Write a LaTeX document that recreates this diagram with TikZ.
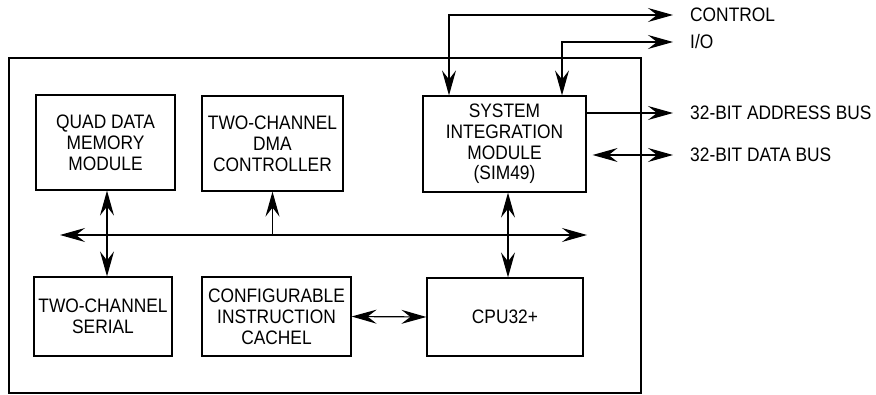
\documentclass[tikz,border=0pt]{standalone}
\usepackage{fontspec}
\setmainfont{Liberation Sans}[FakeStretch=0.89]
\usepackage{tikz}
\usetikzlibrary{arrows.meta,positioning}

\begin{document}
\begin{tikzpicture}[x=1pt,y=-1pt,
    every node/.style={font=\fontsize{19.5}{20.8}\selectfont},
    blk/.style={draw,line width=1.2pt,align=center,inner sep=0pt},
    lbl/.style={anchor=west,inner sep=0pt},
    >={Stealth[length=25pt,width=14pt,inset=9pt]},
    ln/.style={line width=1.2pt}]
  \useasboundingbox (0,0) rectangle (876,395);
  % outer chip boundary
  \draw[line width=2.4pt] (9,58) rectangle (641,393);
  % modules
  \node[blk,minimum width=139pt,minimum height=95pt] (quad) at (105.5,142.5) {QUAD DATA\\MEMORY\\MODULE};
  \node[blk,minimum width=141pt,minimum height=95pt] (dma) at (272.5,143.5) {TWO-CHANNEL\\DMA\\CONTROLLER};
  \node[blk,minimum width=163pt,minimum height=96pt] (sim) at (504.5,144) {SYSTEM\\INTEGRATION\\MODULE\\(SIM49)};
  \node[blk,minimum width=138pt,minimum height=79pt] (serial) at (103,316.5) {TWO-CHANNEL\\SERIAL};
  \node[blk,minimum width=149pt,minimum height=79pt] (cache) at (276.5,316.5) {CONFIGURABLE\\INSTRUCTION\\CACHEL};
  \node[blk,minimum width=156pt,minimum height=78pt] (cpu) at (505,317) {CPU32+};
  % external signals
  \node[lbl] (lctl) at (690,15) {CONTROL};
  \node[lbl] (lio) at (690,42) {I/O};
  \node[lbl] (ladr) at (690,113) {32-BIT ADDRESS BUS};
  \node[lbl] (ldat) at (690,155) {32-BIT DATA BUS};
  % internal bus
  \coordinate (busL) at (60,235);
  \coordinate (busR) at (587,235);
  \draw[ln,<->] (busL) -- (busR);
  \draw[ln,<->] ([xshift=1.5pt]quad.south) -- ([xshift=1.5pt]quad.south |- serial.north);
  \draw[ln,->] (dma.south |- busL) -- (dma.south);
  \draw[ln,<->] ([xshift=3.5pt]sim.south) -- ([xshift=3.5pt]sim.south |- cpu.north);
  \draw[ln,<->] (cache.east) -- (cpu.west);
  % SIM connections
  \draw[ln,<->] ([xshift=-55.5pt]sim.north) |- ([xshift=-17pt]lctl.west);
  \draw[ln,<->] ([xshift=57.5pt]sim.north) |- ([xshift=-17pt]lio.west);
  \draw[ln,->] (sim.east |- ladr) -- ([xshift=-17pt]ladr.west);
  \draw[ln,<->,shorten <=6pt] (sim.east |- ldat) -- ([xshift=-17pt]ldat.west);
\end{tikzpicture}
\end{document}
